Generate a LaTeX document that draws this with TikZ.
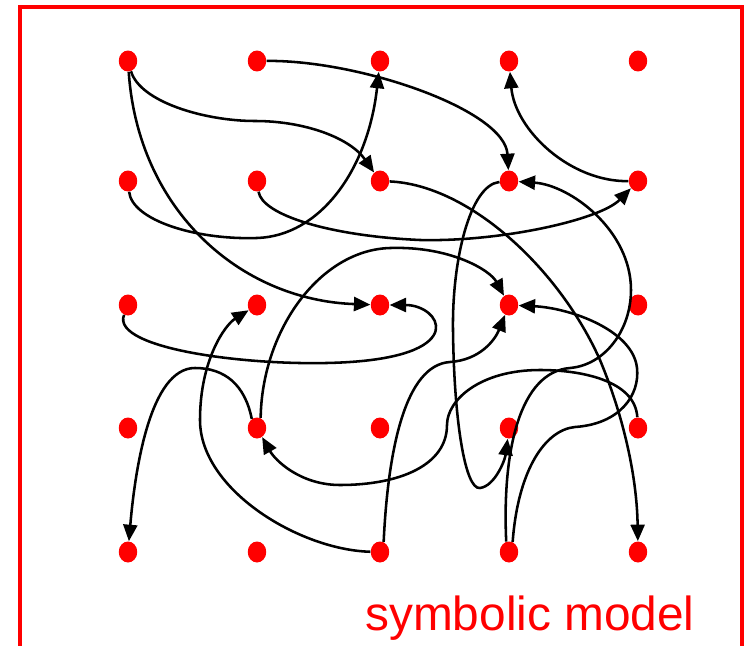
\documentclass[tikz,border=0pt]{standalone}
\usepackage{fontspec}
\setmainfont{Liberation Sans}
\usepackage{tikz}
\usetikzlibrary{arrows.meta,shapes.geometric}
\definecolor{dotcolor}{RGB}{255,0,0}
\tikzset{
  grid dot/.style={
    ellipse,
    fill=dotcolor,
    minimum width=0.37cm,
    minimum height=0.42cm,
    inner sep=0pt
  },
  link/.style={
    -{Triangle[length=0.33cm,width=0.28cm]},
    line width=1.45pt,
    black
  }
}

\begin{document}
\begin{tikzpicture}[x=0.02cm, y=-0.02cm]
  \useasboundingbox (0,0) rectangle (752,646);
  \clip (0,0) rectangle (752,646);

  % Frame
  \draw[dotcolor, line width=2pt] (20,7) rectangle (742,680);

  % Dots
  \foreach \r/\y in {1/61,2/181,3/305,4/428,5/552}
    \foreach \c/\x in {1/128,2/257,3/380,4/509,5/638}
      \node[grid dot] (n\r\c) at (\x,\y) {};

  % Transitions
  \draw[link] (n11) .. controls (140,102) and (205,121) .. (255,121)
    .. controls (305,121) and (350,138) .. (n23);
  \draw[link] (n11) .. controls (138,210) and (240,300) .. (n33);
  \draw[link] (n21) .. controls (132,220) and (195,240) .. (257,238)
    .. controls (320,236) and (368,170) .. (n13);
  \draw[link] (n12) .. controls (360,60) and (505,110) .. (n24);
  \draw[link] (n22) .. controls (262,215) and (330,236) .. (420,240)
    .. controls (500,242) and (600,220) .. (n25);
  \draw[link] (n25) .. controls (570,182) and (515,130) .. (n14);
  \draw[link] (n23) .. controls (470,185) and (560,270) .. (600,360)
    .. controls (625,420) and (637,480) .. (n55);
  \draw[link] (n24) .. controls (470,185) and (452,260) .. (453,330)
    .. controls (454,420) and (465,490) .. (480,488)
    .. controls (495,486) and (505,460) .. (n44);
  \draw[link] (n54.105) .. controls (502,450) and (520,372) .. (570,368)
    .. controls (605,365) and (631,330) .. (631,290)
    .. controls (631,230) and (570,185) .. (n24);
  \draw[link] (n54.70) .. controls (518,470) and (545,430) .. (575,427)
    .. controls (620,424) and (640,395) .. (637,368)
    .. controls (633,330) and (570,308) .. (n34);
  \draw[link] (n53.70) .. controls (388,450) and (405,365) .. (450,362)
    .. controls (480,360) and (495,340) .. (n34);
  \draw[link] (n53) .. controls (300,550) and (200,490) .. (200,420)
    .. controls (200,360) and (225,325) .. (n32);
  \draw[link] (n31) .. controls (110,350) and (260,368) .. (350,362)
    .. controls (470,354) and (440,305) .. (n33);
  \draw[link] (n42.120) .. controls (245,385) and (225,368) .. (195,368)
    .. controls (150,368) and (135,470) .. (n51);
  \draw[link] (n42.70) .. controls (262,330) and (320,250) .. (390,248)
    .. controls (450,246) and (490,270) .. (n34);
  \draw[link] (n45) .. controls (635,380) and (580,370) .. (540,370)
    .. controls (480,370) and (447,400) .. (447,425)
    .. controls (447,465) and (400,485) .. (340,485)
    .. controls (300,485) and (275,460) .. (n42);

  % Label
  \node[anchor=base, text=dotcolor, font=\fontsize{27.2}{32}\selectfont] (label) at (530,630) {symbolic model};
\end{tikzpicture}
\end{document}
